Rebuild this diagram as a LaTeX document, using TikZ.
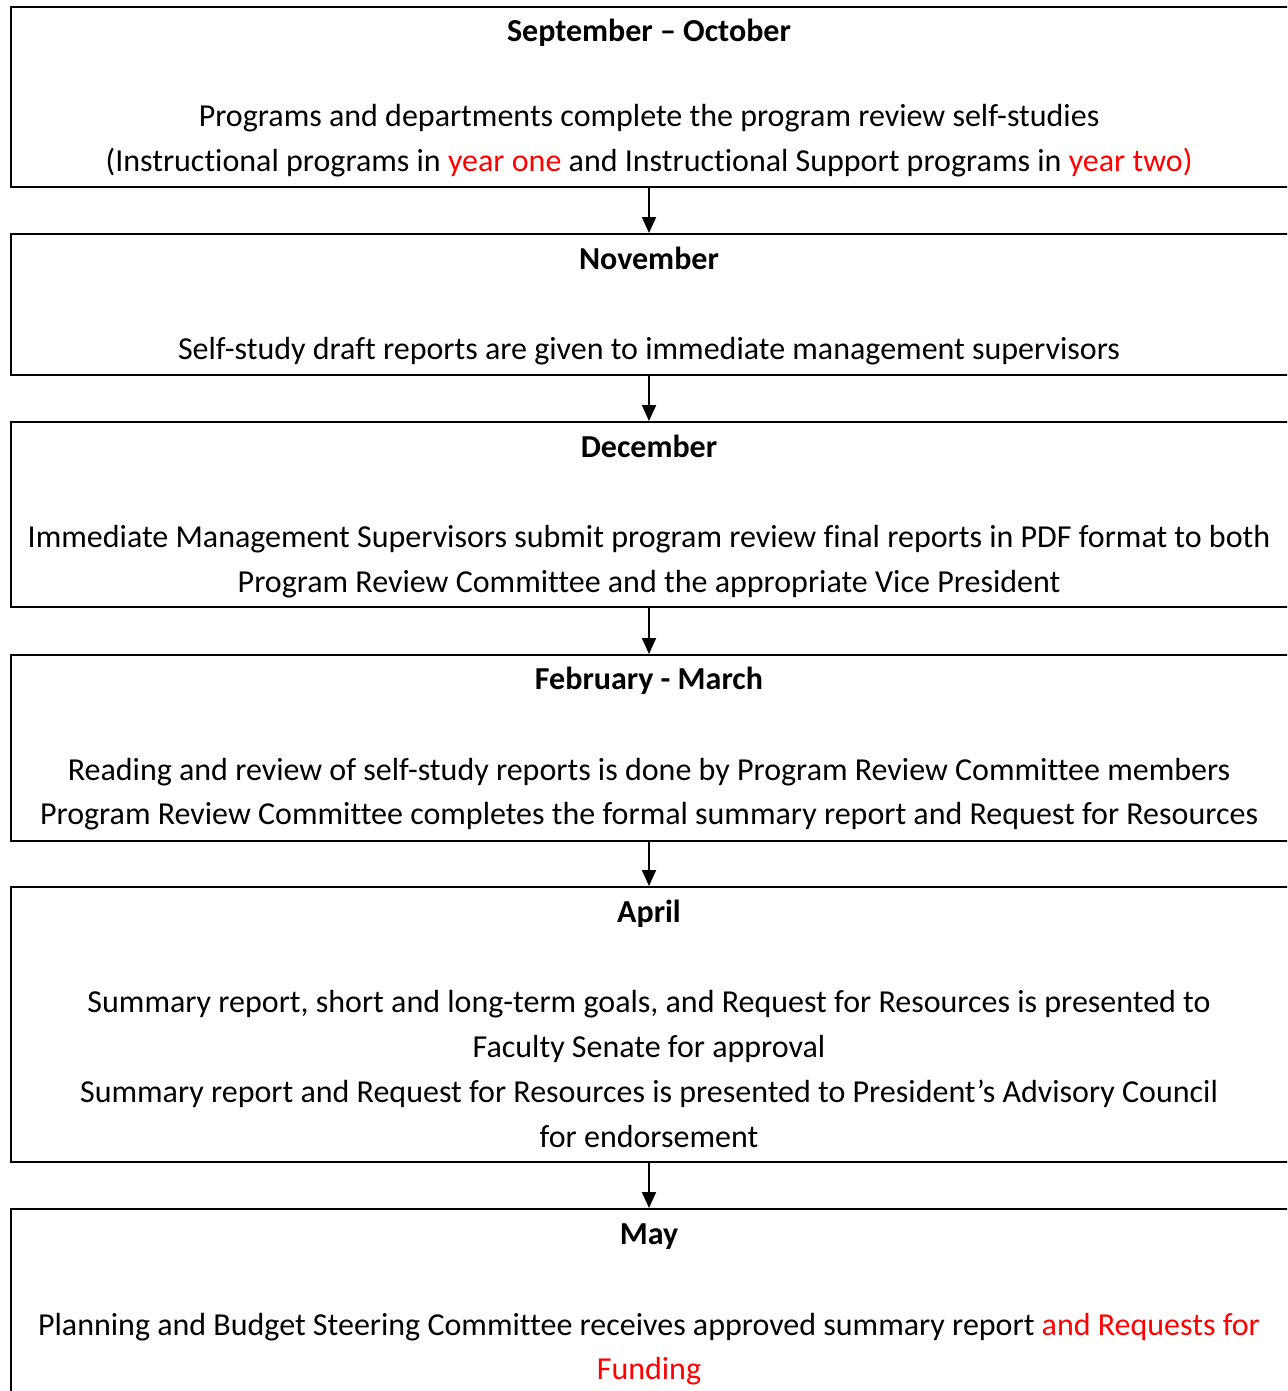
\documentclass[tikz,border=0pt]{standalone}
\usepackage{fontspec}
\setmainfont[Ligatures={NoCommon}]{Carlito}
\usetikzlibrary{arrows.meta}
\definecolor{hl}{RGB}{255,0,0}
\tikzset{
  box/.style={draw, line width=2pt},
  ln/.style={anchor=base, inner sep=0pt, font=\fontsize{32}{38}\selectfont},
  hd/.style={ln, font=\fontsize{32}{38}\selectfont\bfseries},
  conn/.style={line width=2pt, -{Triangle[width=14pt,length=16pt]}}
}
\begin{document}
\begin{tikzpicture}[x=1pt,y=-1pt]
\clip (0,0) rectangle (1287,1391);
\fill[white] (0,0) rectangle (1287,1391);
% boxes
\path[box] (11,7) rectangle (1300,187);
\coordinate (b1s) at (649,188);
\path[box] (11,234) rectangle (1300,375);
\coordinate (b2n) at (649,233);
\coordinate (b2s) at (649,376);
\path[box] (11,422) rectangle (1300,607);
\coordinate (b3n) at (649,421);
\coordinate (b3s) at (649,608);
\path[box] (11,655) rectangle (1300,841);
\coordinate (b4n) at (649,654);
\coordinate (b4s) at (649,842);
\path[box] (11,887) rectangle (1300,1162);
\coordinate (b5n) at (649,886);
\coordinate (b5s) at (649,1163);
\path[box] (11,1209) rectangle (1300,1420);
\coordinate (b6n) at (649,1208);
% arrows
\draw[conn] (b1s) -- (b2n);
\draw[conn] (b2s) -- (b3n);
\draw[conn] (b3s) -- (b4n);
\draw[conn] (b4s) -- (b5n);
\draw[conn] (b5s) -- (b6n);
% texts
\node[hd] (t11) at (649,42) {September – October};
\node[ln] (t12) at (649,127) {Programs and departments complete the program review self-studies};
\node[ln] (t13) at (649,172) {(Instructional programs in \textcolor{hl}{year one} and Instructional Support programs in \textcolor{hl}{year two)}};
\node[hd] (t21) at (649,269) {November};
\node[ln] (t22) at (649,359) {Self-study draft reports are given to immediate management supervisors};
\node[hd] (t31) at (649,457) {December};
\node[ln] (t32) at (649,547) {Immediate Management Supervisors submit program review final reports in PDF format to both};
\node[ln] (t33) at (649,592) {Program Review Committee and the appropriate Vice President};
\node[hd] (t41) at (649,689) {February - March};
\node[ln] (t42) at (649,780) {Reading and review of self-study reports is done by Program Review Committee members};
\node[ln] (t43) at (649,824) {Program Review Committee completes the formal summary report and Request for Resources};
\node[hd] (t51) at (649,922) {April};
\node[ln] (t52) at (649,1012) {Summary report, short and long-term goals, and Request for Resources is presented to};
\node[ln] (t53) at (649,1057) {Faculty Senate for approval};
\node[ln] (t54) at (649,1102) {Summary report and Request for Resources is presented to President’s Advisory Council};
\node[ln] (t55) at (649,1147) {for endorsement};
\node[hd] (t61) at (649,1244) {May};
\node[ln] (t62) at (649,1335) {Planning and Budget Steering Committee receives approved summary report \textcolor{hl}{and Requests for}};
\node[ln] (t63) at (649,1379) {\textcolor{hl}{Funding}};
\end{tikzpicture}
\end{document}
